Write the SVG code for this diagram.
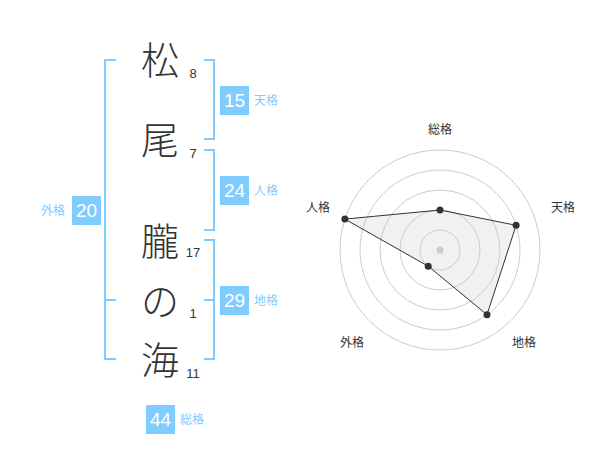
<svg xmlns="http://www.w3.org/2000/svg" width="600" height="470" viewBox="0 0 600 470">
<style>
.ch{font-family:"Noto Sans CJK JP","Noto Sans CJK SC",sans-serif;font-size:38px;font-weight:300;fill:#333;text-anchor:middle}
.num{font-family:"Liberation Sans",Arial,sans-serif;font-size:13px;fill:#333;text-anchor:middle}
.br{fill:none;stroke:#80ccff;stroke-width:2}
.box{fill:#80ccff}
.bn{font-family:"Liberation Sans",Arial,sans-serif;font-size:19px;fill:#fff;text-anchor:middle}
.bl{font-family:"Noto Sans CJK JP","Noto Sans CJK SC",sans-serif;font-size:12px;fill:#80ccff}
.grid{fill:none;stroke:#ccc;stroke-width:1}
.rl{font-family:"Noto Sans CJK JP","Noto Sans CJK SC",sans-serif;font-size:12px;fill:#333;text-anchor:middle}
</style>
<rect width="600" height="470" fill="#fff"/>
<g id="chars">
<text class="ch" x="160" y="74">松</text>
<text class="ch" x="160" y="154">尾</text>
<text class="ch" x="160" y="255">朧</text>
<text class="ch" x="160" y="315">の</text>
<text class="ch" x="160" y="374">海</text>
</g>
<g id="strokes">
<text class="num" x="193" y="78">8</text>
<text class="num" x="193" y="158">7</text>
<text class="num" x="193" y="257">17</text>
<text class="num" x="193" y="318">1</text>
<text class="num" x="193" y="378">11</text>
</g>
<g id="connectors">
<path class="br" d="M116,60 H105 V359 H116 M105,300 H116"/>
<path class="br" d="M204,60 H214 V139 H204"/>
<path class="br" d="M204,150 H214 V230 H204"/>
<path class="br" d="M204,240 H214 V359 H204 M204,300 H214"/>
</g>
<g id="tenkaku">
<rect class="box" x="220" y="86" width="29" height="29"/>
<text class="bn" x="234.5" y="107">15</text>
<text class="bl" x="254" y="105">天格</text>
</g>
<g id="jinkaku">
<rect class="box" x="220" y="176" width="29" height="29"/>
<text class="bn" x="234.5" y="197">24</text>
<text class="bl" x="254" y="195">人格</text>
</g>
<g id="chikaku">
<rect class="box" x="220" y="286" width="29" height="29"/>
<text class="bn" x="234.5" y="307">29</text>
<text class="bl" x="254" y="305">地格</text>
</g>
<g id="gaikaku">
<rect class="box" x="72" y="196" width="29" height="29"/>
<text class="bn" x="86.5" y="217">20</text>
<text class="bl" x="41" y="215">外格</text>
</g>
<g id="soukaku">
<rect class="box" x="146" y="405" width="29" height="29"/>
<text class="bn" x="160.5" y="426">44</text>
<text class="bl" x="180" y="424">総格</text>
</g>
<g id="radar">
<circle class="grid" cx="440" cy="250" r="20"/>
<circle class="grid" cx="440" cy="250" r="40"/>
<circle class="grid" cx="440" cy="250" r="60"/>
<circle class="grid" cx="440" cy="250" r="80"/>
<circle class="grid" cx="440" cy="250" r="100"/>
<circle cx="440" cy="250" r="3.5" fill="#ccc"/>
<polygon points="440,210 516.1,225.3 487,314.7 428.2,266.2 344.9,219.1" fill="rgba(200,200,200,0.25)" stroke="#333" stroke-width="1"/>
<g fill="#333">
<circle cx="440" cy="210" r="3.5"/>
<circle cx="516.1" cy="225.3" r="3.5"/>
<circle cx="487" cy="314.7" r="3.5"/>
<circle cx="428.2" cy="266.2" r="3.5"/>
<circle cx="344.9" cy="219.1" r="3.5"/>
</g>
<text class="rl" x="440" y="134">総格</text>
<text class="rl" x="563" y="212">天格</text>
<text class="rl" x="318" y="212">人格</text>
<text class="rl" x="524" y="347">地格</text>
<text class="rl" x="352" y="347">外格</text>
</g>
</svg>
